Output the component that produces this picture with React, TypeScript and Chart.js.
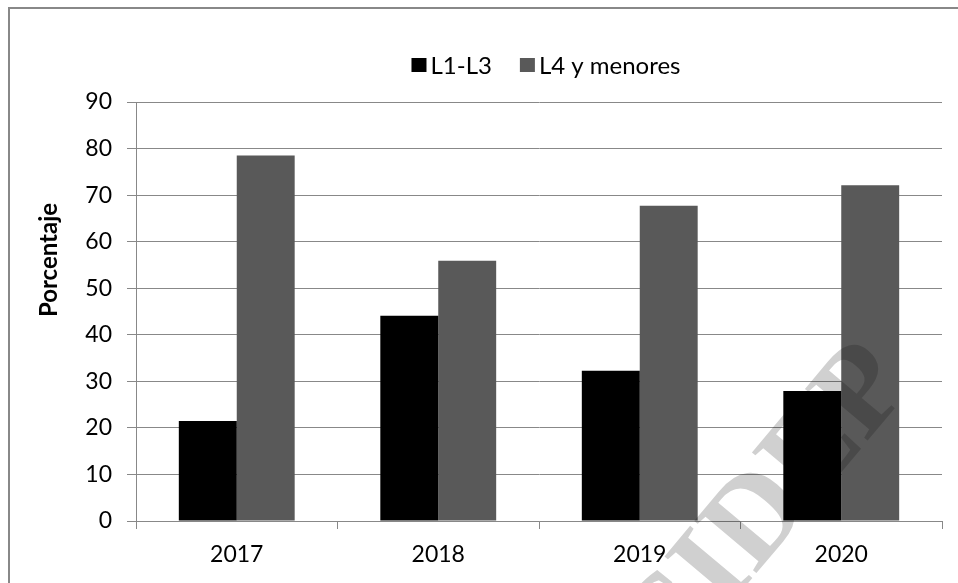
import React, { useEffect, useRef } from "react";
import { Chart, registerables } from "chart.js";

Chart.register(...registerables);

const categories = ["2017", "2018", "2019", "2020"];
const seriesL1L3 = [21.5, 44.1, 32.3, 27.9];
const seriesL4 = [78.5, 55.9, 67.7, 72.1];
const seriesNames = ["L1-L3", "L4 y menores"];
const seriesColors = ["#000000", "#595959"];
const yTitle = "Porcentaje";
const watermarkText = "CIDEP";

const FONT = "Lato, 'Open Sans', sans-serif";

const legendPlugin = {
  id: "customLegend",
  afterDraw(chart: any) {
    const ctx = chart.ctx;
    ctx.save();
    ctx.font = `24px ${FONT}`;
    ctx.textBaseline = "middle";
    ctx.textAlign = "left";
    const box = 15;
    const gap = 4;
    const spacing = 28;
    const items = chart.data.datasets.map((d: any) => ({
      text: d.label,
      color: d.backgroundColor,
      w: ctx.measureText(d.label).width,
    }));
    const total = items.reduce((s: number, it: any) => s + box + gap + it.w, 0) + spacing * (items.length - 1);
    const centerX = 546;
    const cy = 65;
    let x = centerX - total / 2;
    items.forEach((it: any) => {
      ctx.fillStyle = it.color;
      ctx.fillRect(x, cy - 7, box, 14);
      ctx.fillStyle = "#000";
      ctx.fillText(it.text, x + box + gap, cy + 1);
      x += box + gap + it.w + spacing;
    });
    ctx.restore();
  },
};

const yTitlePlugin = {
  id: "yTitle",
  afterDraw(chart: any) {
    const ctx = chart.ctx;
    ctx.save();
    ctx.translate(49, 260);
    ctx.rotate(-Math.PI / 2);
    ctx.font = `bold 24px ${FONT}`;
    ctx.fillStyle = "#000";
    ctx.textAlign = "center";
    ctx.textBaseline = "middle";
    ctx.fillText(yTitle, 0, 0);
    ctx.restore();
  },
};

const watermarkPlugin = {
  id: "watermark",
  afterDraw(chart: any) {
    const ctx = chart.ctx;
    ctx.save();
    ctx.globalCompositeOperation = "multiply";
    ctx.translate(766, 512);
    ctx.rotate((-50 * Math.PI) / 180);
    ctx.font = "bold 124px 'Liberation Serif', serif";
    ctx.fillStyle = "#d0d0d0";
    ctx.textAlign = "center";
    ctx.textBaseline = "middle";
    ctx.fillText(watermarkText, 0, 0);
    ctx.restore();
  },
};

export default function App() {
  const ref = useRef<HTMLCanvasElement | null>(null);
  useEffect(() => {
    if (!ref.current) return;
    const chart = new Chart(ref.current, {
      type: "bar",
      data: {
        labels: categories,
        datasets: [
          {
            label: seriesNames[0],
            data: seriesL1L3,
            backgroundColor: seriesColors[0],
            borderWidth: 0,
          },
          {
            label: seriesNames[1],
            data: seriesL4,
            backgroundColor: seriesColors[1],
            borderWidth: 0,
          },
        ],
      },
      options: {
        animation: false,
        responsive: false,
        maintainAspectRatio: false,
        layout: { padding: { left: 0, right: 16, top: 102, bottom: 0 } },
        datasets: {
          bar: { categoryPercentage: 0.575, barPercentage: 1 },
        },
        plugins: {
          legend: { display: false },
          tooltip: { enabled: false },
        },
        scales: {
          x: {
            grid: {
              display: true,
              drawOnChartArea: false,
              drawTicks: true,
              tickLength: 8,
              color: "#888",
              offset: true,
            },
            border: { display: true, color: "#888" },
            ticks: {
              color: "#000",
              padding: 12,
              font: { family: FONT, size: 23 },
            },
            afterFit(scale: any) {
              scale.height = 62;
            },
          },
          y: {
            min: 0,
            max: 90,
            ticks: {
              stepSize: 10,
              color: "#000",
              padding: 15,
              font: { family: FONT, size: 23 },
            },
            grid: {
              color: "#888",
              tickLength: 9,
              drawTicks: true,
            },
            border: { display: true, color: "#888" },
            title: { display: false },
            afterFit(scale: any) {
              scale.width = 136;
            },
          },
        },
      },
      plugins: [legendPlugin, yTitlePlugin, watermarkPlugin],
    });
    return () => chart.destroy();
  }, []);

  return (
    <div style={{ position: "fixed", left: 0, top: 0, width: 958, height: 583, background: "#fff", overflow: "hidden" }}>
      <div
        style={{
          position: "absolute",
          left: 8,
          top: 7,
          width: 1000,
          height: 700,
          border: "2px solid #888",
          boxSizing: "border-box",
        }}
      />
      <canvas ref={ref} width={958} height={583} style={{ position: "absolute", left: 0, top: 0, width: 958, height: 583 }} />
    </div>
  );
}
